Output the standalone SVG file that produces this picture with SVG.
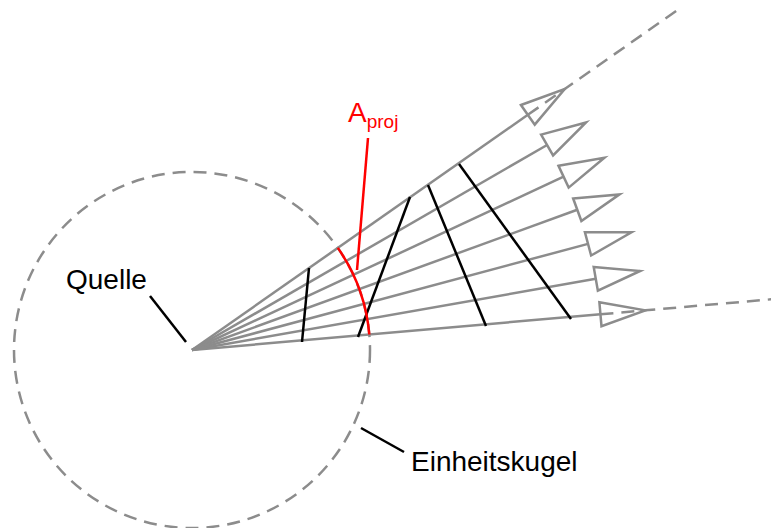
<svg xmlns="http://www.w3.org/2000/svg" width="771" height="528" viewBox="0 0 771 528">
<style>
.g{stroke:#8c8c8c;stroke-width:2.5;fill:none}
.d{stroke-dasharray:13 8}
.k{stroke:#000;stroke-width:2.5;fill:none}
.r{stroke:#ff0000;stroke-width:2.5;fill:none}
.t{font-family:"Liberation Sans",Arial,sans-serif;font-size:28px;fill:#000}
</style>
<defs>
<g id="ray"><line class="g" x1="0" y1="0" x2="410" y2="0"/><polygon class="g" points="410,-12 455,0 410,12" stroke-linejoin="miter"/></g>
</defs>
<g id="unit-sphere"><circle class="g d" cx="192" cy="350" r="178"/></g>
<g id="rays">
<g transform="rotate(-35 192 350)"><use href="#ray" x="192" y="350"/><line class="g d" x1="602" y1="350" x2="783" y2="350"/></g>
<g transform="rotate(-30 192 350)"><use href="#ray" x="192" y="350"/></g>
<g transform="rotate(-25 192 350)"><use href="#ray" x="192" y="350"/></g>
<g transform="rotate(-20 192 350)"><use href="#ray" x="192" y="350"/></g>
<g transform="rotate(-15 192 350)"><use href="#ray" x="192" y="350"/></g>
<g transform="rotate(-10 192 350)"><use href="#ray" x="192" y="350"/></g>
<g transform="rotate(-5 192 350)"><use href="#ray" x="192" y="350"/><line class="g d" x1="602" y1="350" x2="783" y2="350"/></g>
</g>
<g id="cross-lines">
<line class="k" x1="302" y1="342" x2="309" y2="268"/>
<line class="k" x1="358" y1="337" x2="410" y2="197"/>
<line class="k" x1="428" y1="185" x2="486" y2="326"/>
<line class="k" x1="459" y1="164" x2="571" y2="319"/>
</g>
<g id="a-proj">
<path class="r" d="M337.8,247.9 A178,178 0 0 1 369.3,334.5"/>
<line class="r" x1="368" y1="138" x2="357" y2="270"/>
<text x="348" y="122" font-family="Liberation Sans,Arial,sans-serif" font-size="28" fill="#ff0000">A<tspan font-size="19" dy="6">proj</tspan></text>
</g>
<g id="quelle">
<text class="t" x="66" y="289">Quelle</text>
<line class="k" x1="150" y1="296" x2="186" y2="342"/>
</g>
<g id="einheitskugel">
<text class="t" x="411" y="471">Einheitskugel</text>
<line class="k" x1="361" y1="428" x2="404" y2="452"/>
</g>
</svg>
